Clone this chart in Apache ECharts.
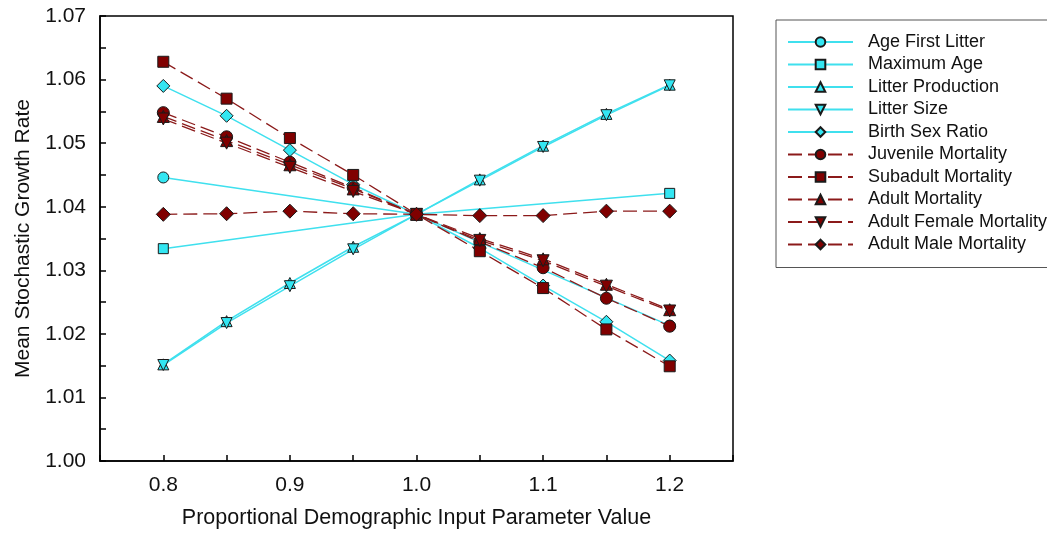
<!DOCTYPE html>
<html><head><meta charset="utf-8">
<script src="https://cdn.jsdelivr.net/npm/echarts@6/dist/echarts.min.js"></script>
<style>html,body{margin:0;padding:0;background:#fff}#c{width:1047px;height:538px}</style>
</head><body><div id="c"></div>
<script>
// ---- data ----
const xFull = [0.8, 0.85, 0.9, 0.95, 1.0, 1.05, 1.1, 1.15, 1.2];
const xSparse = [0.8, 1.0, 1.2];
const ageFirstLitter = [1.0446, 1.0388, 1.0213];
const maximumAge = [1.0334, 1.0388, 1.0421];
const litterProduction = [1.0152, 1.0220, 1.0280, 1.0337, 1.0388, 1.0443, 1.0496, 1.0546, 1.0592];
const litterSize = [1.0151, 1.0217, 1.0275, 1.0333, 1.0388, 1.0441, 1.0494, 1.0544, 1.0591];
const birthSexRatio = [1.0590, 1.0543, 1.0489, 1.0435, 1.0388, 1.0335, 1.0276, 1.0219, 1.0158];
const juvenileMortality = [1.0548, 1.0510, 1.0470, 1.0430, 1.0388, 1.0345, 1.0304, 1.0256, 1.0212];
const subadultMortality = [1.0628, 1.0570, 1.0508, 1.0450, 1.0388, 1.0330, 1.0272, 1.0207, 1.0149];
const adultMortality = [1.0542, 1.0504, 1.0466, 1.0428, 1.0388, 1.0350, 1.0318, 1.0278, 1.0238];
const adultFemaleMortality = [1.0538, 1.0500, 1.0462, 1.0424, 1.0388, 1.0347, 1.0315, 1.0275, 1.0236];
const adultMaleMortality = [1.0388, 1.0389, 1.0393, 1.0389, 1.0388, 1.0386, 1.0386, 1.0393, 1.0393];
const seriesNames = ['Age First Litter','Maximum Age','Litter Production','Litter Size','Birth Sex Ratio',
  'Juvenile Mortality','Subadult Mortality','Adult Mortality','Adult Female Mortality','Adult Male Mortality'];

const CYAN_LINE = '#3FE0EE', CYAN_FILL = '#33E6F2';
const BROWN_LINE = '#8B1A1A', BROWN_FILL = '#800000';
const FONT = 'Liberation Sans, Arial, sans-serif';

function pairs(xs, ys){ return xs.map((x,i)=>[x, ys[i]]); }

function mk(name, xs, ys, symbol, rot, cyan, size){
  return {
    name, type:'line', data: pairs(xs, ys),
    symbol, symbolSize: size, symbolRotate: rot, showAllSymbol: true,
    lineStyle: cyan ? {color: CYAN_LINE, width: 1.5, type:'solid'} : {color: BROWN_LINE, width: 1.3, type:[14,6]},
    itemStyle: {color: cyan ? CYAN_FILL : BROWN_FILL, borderColor: '#1a1a1a', borderWidth: 1},
    emphasis: {disabled: true}, animation: false, z: 2
  };
}

const series = [
  mk(seriesNames[0], xSparse, ageFirstLitter, 'circle', 0, true, 11),
  mk(seriesNames[1], xSparse, maximumAge, 'rect', 0, true, 10),
  mk(seriesNames[2], xFull, litterProduction, 'triangle', 0, true, 11),
  mk(seriesNames[3], xFull, litterSize, 'triangle', 180, true, 11),
  mk(seriesNames[4], xFull, birthSexRatio, 'diamond', 0, true, 13),
  mk(seriesNames[5], xFull, juvenileMortality, 'circle', 0, false, 12),
  mk(seriesNames[6], xFull, subadultMortality, 'rect', 0, false, 11),
  mk(seriesNames[7], xFull, adultMortality, 'triangle', 0, false, 12),
  mk(seriesNames[8], xFull, adultFemaleMortality, 'triangle', 180, false, 12),
  mk(seriesNames[9], xFull, adultMaleMortality, 'diamond', 0, false, 14)
];

const chart = echarts.init(document.getElementById('c'), null, {renderer:'canvas'});
chart.setOption({
  backgroundColor: '#fff',
  animation: false,
  grid: {left: 100, top: 16, right: 314, bottom: 77, show: true, borderColor: '#000', borderWidth: 1.5, backgroundColor: 'transparent'},
  xAxis: {
    type: 'value', min: 0.75, max: 1.25, interval: 0.05,
    name: 'Proportional Demographic Input Parameter Value', nameLocation: 'middle', nameGap: 46,
    nameTextStyle: {fontFamily: FONT, fontSize: 21.5, color: '#111'},
    axisLine: {show: true, lineStyle: {color: '#000', width: 1.5}},
    axisTick: {show: true, inside: true, length: 6, lineStyle: {color: '#000', width: 1.5}},
    axisLabel: {fontFamily: FONT, fontSize: 21, color: '#111', margin: 14,
      formatter: v => (Math.round(v*100) % 10 === 0 && v > 0.76 && v < 1.24) ? v.toFixed(1) : ''},
    splitLine: {show: false}
  },
  yAxis: {
    type: 'value', min: 1.0, max: 1.07, interval: 0.005,
    name: 'Mean Stochastic Growth Rate', nameLocation: 'middle', nameGap: 66,
    nameTextStyle: {fontFamily: FONT, fontSize: 21, color: '#111'},
    axisLine: {show: true, lineStyle: {color: '#000', width: 1.5}},
    axisTick: {show: true, inside: true, length: 6, lineStyle: {color: '#000', width: 1.5}},
    axisLabel: {fontFamily: FONT, fontSize: 21, color: '#111', margin: 14,
      formatter: v => (Math.round(v*1000) % 10 === 0) ? v.toFixed(2) : ''},
    splitLine: {show: false}
  },
  legend: {
    orient: 'vertical', left: 776, top: 20,
    data: seriesNames,
    itemWidth: 65, itemHeight: 12, itemGap: 4.5,
    padding: [13, 12, 14, 11],
    borderColor: '#555', borderWidth: 1,
    textStyle: {fontFamily: FONT, fontSize: 18, color: '#111', padding: [0,0,0,10]},
    selectedMode: false
  },
  series
});
</script></body></html>
